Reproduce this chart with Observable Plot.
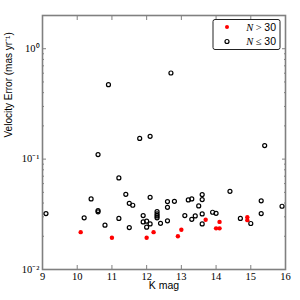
<!DOCTYPE html>
<html>
<head>
<meta charset="utf-8">
<script src="https://cdn.jsdelivr.net/npm/d3@7"></script>
<script src="https://cdn.jsdelivr.net/npm/@observablehq/plot@0.6"></script>
<style>
  html, body { margin: 0; padding: 0; background: #fff; }
</style>
</head>
<body>
<div id="chart"></div>
<script>
// N > 30 (red filled)
const bigK = [10.1, 11.0, 12.0, 12.2, 12.9, 13.0, 13.7, 14.0, 14.1, 14.1, 14.9, 14.9];
const bigErr = [0.0218, 0.0194, 0.0194, 0.0218, 0.0200, 0.0229, 0.0282, 0.0236, 0.0236, 0.0270, 0.0297, 0.0280];

// N <= 30 (open circles)
const smallK = [9.1, 10.2, 10.4, 10.6, 10.6, 10.6, 10.8, 10.9, 11.2, 11.2, 11.4, 11.5, 11.6, 11.5, 11.8,
  11.9, 11.9, 12.0, 12.0, 12.1, 12.1, 12.1, 12.3, 12.3, 12.3, 12.3, 12.4, 12.6, 12.6, 12.6, 12.7, 12.8,
  13.1, 13.2, 13.3, 13.3, 13.4, 13.5, 13.6, 13.6, 13.6, 13.6, 13.9, 14.0, 14.4, 14.7, 15.0, 15.3, 15.3, 15.4, 15.9];
const smallErr = [0.0321, 0.0294, 0.0436, 0.0342, 0.0333, 0.110, 0.0252, 0.472, 0.0676, 0.0290, 0.0480, 0.0398, 0.0382, 0.0240, 0.154,
  0.0308, 0.0270, 0.0274, 0.0242, 0.0451, 0.0259, 0.161, 0.0335, 0.0319, 0.0306, 0.0294, 0.0262, 0.0412, 0.0366, 0.0276, 0.603, 0.0415,
  0.0308, 0.0427, 0.0436, 0.0285, 0.0306, 0.0377, 0.0477, 0.0430, 0.0319, 0.0259, 0.0330, 0.0323, 0.0511, 0.0290, 0.0261, 0.0419, 0.0321, 0.1325, 0.0374];

const xTicks = [9, 10, 11, 12, 13, 14, 15, 16];
const yMajor = [0.01, 0.1, 1];
const yMajorLabels = ["10⁻²", "10⁻¹", "10⁰"];
const yMinor = [0.02, 0.03, 0.04, 0.05, 0.06, 0.07, 0.08, 0.09, 0.2, 0.3, 0.4, 0.5, 0.6, 0.7, 0.8, 0.9, 2];
const xDomain = [9, 16];
const yDomain = [0.01, 2];
const legendLabels = ["N > 30", "N ≤ 30"];
const xTitle = "K mag";
const yTitle = "Velocity Error (mas yr⁻¹)";

const big = bigK.map((k, i) => ({k, e: bigErr[i]}));
const small = smallK.map((k, i) => ({k, e: smallErr[i]}));

const serif = "'Liberation Serif', 'Times New Roman', serif";
const sans = "'Liberation Sans', Arial, sans-serif";
const frameColor = "#808080";

function legendMark(index, scales, values, dims) {
  const ns = "http://www.w3.org/2000/svg";
  const g = document.createElementNS(ns, "g");
  const right = dims.width - dims.marginRight;
  const top = dims.marginTop;
  const bx = right - 72, by = top + 4.5, bw = 67, bh = 30;
  const rect = document.createElementNS(ns, "rect");
  rect.setAttribute("x", bx); rect.setAttribute("y", by);
  rect.setAttribute("width", bw); rect.setAttribute("height", bh);
  rect.setAttribute("rx", 2);
  rect.setAttribute("fill", "white"); rect.setAttribute("stroke", "#222"); rect.setAttribute("stroke-width", 1);
  g.appendChild(rect);
  legendLabels.forEach((lab, i) => {
    const cy = by + 7.5 + i * 14.5;
    const c = document.createElementNS(ns, "circle");
    c.setAttribute("cx", bx + 14); c.setAttribute("cy", cy); c.setAttribute("r", 2);
    if (i === 0) { c.setAttribute("fill", "#ff0000"); }
    else { c.setAttribute("fill", "none"); c.setAttribute("stroke", "black"); c.setAttribute("stroke-width", 1.2); }
    g.appendChild(c);
    const t = document.createElementNS(ns, "text");
    t.setAttribute("x", bx + bw - 4); t.setAttribute("y", cy);
    t.setAttribute("dy", "0.35em");
    t.setAttribute("text-anchor", "end");
    t.setAttribute("font-size", 10.5);
    t.setAttribute("font-family", serif);
    const n = document.createElementNS(ns, "tspan");
    n.setAttribute("font-style", "italic");
    n.textContent = lab.slice(0, 1);
    t.appendChild(n);
    const rest = document.createElementNS(ns, "tspan");
    rest.textContent = " " + lab.slice(2, 3) + " ";
    t.appendChild(rest);
    const num = document.createElementNS(ns, "tspan");
    num.setAttribute("font-family", sans);
    num.textContent = lab.slice(4);
    t.appendChild(num);
    g.appendChild(t);
  });
  return g;
}

const chart = Plot.plot({
  width: 300,
  height: 300,
  marginLeft: 42,
  marginRight: 15,
  marginTop: 15,
  marginBottom: 31,
  style: {background: "white", overflow: "visible"},
  x: {domain: xDomain},
  y: {type: "log", domain: yDomain},
  marks: [
    // x tick labels
    Plot.axisX({ticks: xTicks, tickSize: 0, tickPadding: 3, tickFormat: d => String(d), label: null,
      fontFamily: serif, fontSize: 10.5, fill: "black"}),
    // y tick labels
    Plot.axisY({ticks: yMajor, tickSize: 0, tickPadding: 3, tickFormat: (d, i) => yMajorLabels[yMajor.indexOf(d)], label: null,
      fontFamily: serif, fontSize: 10.5, fill: "black"}),
    // inward ticks
    Plot.axisX({anchor: "bottom", ticks: xTicks, tickSize: -4, tickFormat: () => "", label: null, stroke: frameColor}),
    Plot.axisX({anchor: "top", ticks: xTicks, tickSize: -4, tickFormat: () => "", label: null, stroke: frameColor}),
    Plot.axisY({anchor: "left", ticks: yMajor, tickSize: -4, tickFormat: () => "", label: null, stroke: frameColor}),
    Plot.axisY({anchor: "right", ticks: yMajor, tickSize: -4, tickFormat: () => "", label: null, stroke: frameColor}),
    Plot.axisY({anchor: "left", ticks: yMinor, tickSize: -2, tickFormat: () => "", label: null, stroke: frameColor}),
    Plot.axisY({anchor: "right", ticks: yMinor, tickSize: -2, tickFormat: () => "", label: null, stroke: frameColor}),
    Plot.frame({stroke: frameColor, strokeWidth: 1.6}),
    // titles
    Plot.text([xTitle], {frameAnchor: "bottom", dy: 19, fontFamily: sans, fontSize: 10.5, fill: "black"}),
    Plot.text([yTitle], {frameAnchor: "left", rotate: -90, dx: -34, dy: -5, fontFamily: sans, fontSize: 10, fill: "black"}),
    // data
    Plot.dot(small, {x: "k", y: "e", r: 2, stroke: "black", strokeWidth: 1.2, fill: "none"}),
    Plot.dot(big, {x: "k", y: "e", r: 2.2, fill: "#ff0000", stroke: "none"}),
    legendMark
  ]
});
document.getElementById("chart").appendChild(chart);
</script>
</body>
</html>
